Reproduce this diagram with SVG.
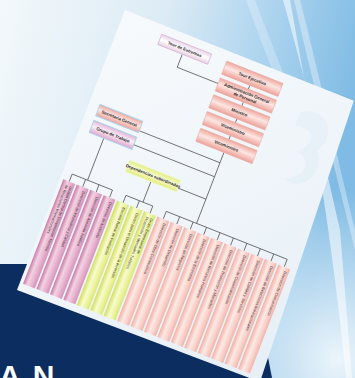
<svg xmlns="http://www.w3.org/2000/svg" width="355" height="378" viewBox="0 0 355 378">
<defs>
<style>
.lbl{font-family:"Liberation Sans",Arial,sans-serif;font-size:4.4px;fill:#2b2b2b;text-anchor:middle;font-weight:bold}
.cl{font-family:"Liberation Sans",Arial,sans-serif;font-size:3.9px;fill:#3a3030}
.ln{stroke:#4a4a4a;stroke-width:0.7;fill:none}
.pk{fill:url(#gPink)}
.yl{fill:url(#gYel)}
.sm{fill:url(#gSal)}
</style>
<linearGradient id="bg" x1="0" y1="0" x2="1" y2="0.25">
<stop offset="0" stop-color="#f3f8fb"/>
<stop offset="0.45" stop-color="#dcebf5"/>
<stop offset="0.75" stop-color="#a9d2ee"/>
<stop offset="1" stop-color="#7fbbe4"/>
</linearGradient>
<radialGradient id="bgBR" cx="0.95" cy="0.95" r="0.45">
<stop offset="0" stop-color="#ffffff" stop-opacity="0.85"/>
<stop offset="1" stop-color="#ffffff" stop-opacity="0"/>
</radialGradient>
<linearGradient id="paper" x1="0" y1="0" x2="1" y2="1">
<stop offset="0" stop-color="#f7fafc"/>
<stop offset="0.6" stop-color="#eef4f9"/>
<stop offset="1" stop-color="#e6eff6"/>
</linearGradient>
<linearGradient id="gPink" x1="0" y1="0" x2="1" y2="0">
<stop offset="0" stop-color="#c97aa6"/>
<stop offset="0.35" stop-color="#f3d2e3"/>
<stop offset="0.7" stop-color="#e6b2cf"/>
<stop offset="1" stop-color="#d592b8"/>
</linearGradient>
<linearGradient id="gYel" x1="0" y1="0" x2="1" y2="0">
<stop offset="0" stop-color="#d3df5c"/>
<stop offset="0.4" stop-color="#f7fbcf"/>
<stop offset="0.75" stop-color="#eaf299"/>
<stop offset="1" stop-color="#dbe672"/>
</linearGradient>
<linearGradient id="gSal" x1="0" y1="0" x2="1" y2="0">
<stop offset="0" stop-color="#f2b0a6"/>
<stop offset="0.4" stop-color="#fde9e5"/>
<stop offset="0.75" stop-color="#f8cfc8"/>
<stop offset="1" stop-color="#f1b3a9"/>
</linearGradient>
<linearGradient id="gBox" x1="0" y1="0" x2="0" y2="1">
<stop offset="0" stop-color="#eea79d"/>
<stop offset="0.45" stop-color="#fde6e2"/>
<stop offset="1" stop-color="#eca198"/>
</linearGradient>
<linearGradient id="gLav" x1="0" y1="0" x2="0" y2="1">
<stop offset="0" stop-color="#e2b3d4"/>
<stop offset="0.45" stop-color="#fbf0f7"/>
<stop offset="1" stop-color="#dca6cd"/>
</linearGradient>
<linearGradient id="gTop" x1="0" y1="0" x2="0" y2="1">
<stop offset="0" stop-color="#ead3e8"/>
<stop offset="0.5" stop-color="#ffffff"/>
<stop offset="1" stop-color="#e6cde3"/>
</linearGradient>
<linearGradient id="gYbox" x1="0" y1="0" x2="0" y2="1">
<stop offset="0" stop-color="#e3ee7a"/>
<stop offset="0.5" stop-color="#fafce0"/>
<stop offset="1" stop-color="#e0eb70"/>
</linearGradient>
</defs>

<!-- background -->
<rect x="0" y="0" width="355" height="378" fill="url(#bg)"/>
<rect x="0" y="0" width="355" height="378" fill="url(#bgBR)"/>
<path d="M283,0 C300,60 318,130 340,230 L352,378 L346,378 C334,250 312,120 290,0 Z" fill="#ffffff" opacity="0.55"/>
<path d="M300,0 C318,70 338,160 355,230 L355,250 C335,170 312,80 294,0 Z" fill="#ffffff" opacity="0.35"/>
<path d="M255,0 C270,40 290,90 310,140 L300,140 C282,95 262,45 246,0 Z" fill="#ffffff" opacity="0.25"/>
<polygon points="0,264 250,264 272,378 0,378" fill="#0b2d60"/>
<text x="-1" y="386" font-family="'Liberation Sans',Arial,sans-serif" font-size="30" font-weight="bold" letter-spacing="12" fill="#ffffff">AN</text>

<!-- paper -->
<g id="paper" transform="matrix(0.908 0.36 -0.36 0.933 125 10)">
<polygon points="0,0 252,0 266,296 0,300" fill="url(#paper)"/>
<path d="M205,30 C230,15 250,40 235,60 C250,75 240,105 215,98 C235,90 235,70 215,68 C232,58 228,38 205,45 Z" fill="#c9e0ef" opacity="0.2"/>

<!-- connectors -->
<g id="connectors" class="ln">
<path d="M71,20 V34 H116"/>
<path d="M147,24 V28 M147,42 V46 M147,60 V64 M147,78 V82"/>
<path d="M147,96 V172"/>
<path d="M58,107 H147"/>
<path d="M58,122 H147"/>
<path d="M116,146 H147"/>
<path d="M27,127 V172 M10,180 V172 H54.4 V180 M24.8,172 V180 M39.6,172 V180"/>
<path d="M88,150 V172 M69.2,180 V172 H98.8 V180 M84,172 V180"/>
<path d="M113.6,180 V172 H246.8 V180 M128.4,172 V180 M143.2,172 V180 M158,172 V180 M172.8,172 V180 M187.6,172 V180 M202.4,172 V180 M217.2,172 V180 M232,172 V180"/>
</g>

<g id="n-top"><rect x="44" y="9" width="55" height="11" fill="url(#gTop)" stroke="#d9b6d6" stroke-width="0.8"/><text class="lbl" x="71.5" y="16">Tour de Extremos</text></g>
<g id="n-s1"><rect x="116" y="10" width="62" height="14" fill="url(#gBox)" stroke="#e9a59c" stroke-width="0.5"/><text class="lbl" x="147" y="18.5">Tour Ejecutivo</text></g>
<g id="n-s2"><rect x="116" y="28" width="62" height="14" fill="url(#gBox)" stroke="#e9a59c" stroke-width="0.5"/><text class="lbl" x="147" y="34">Administración General</text><text class="lbl" x="147" y="39">de Personal</text></g>
<g id="n-s3"><rect x="116" y="46" width="62" height="14" fill="url(#gBox)" stroke="#e9a59c" stroke-width="0.5"/><text class="lbl" x="147" y="54.5">Ministro</text></g>
<g id="n-s4"><rect x="116" y="64" width="62" height="14" fill="url(#gBox)" stroke="#e9a59c" stroke-width="0.5"/><text class="lbl" x="147" y="72.5">Viceministro</text></g>
<g id="n-s5"><rect x="116" y="82" width="62" height="14" fill="url(#gBox)" stroke="#e9a59c" stroke-width="0.5"/><text class="lbl" x="147" y="90.5">Viceministro</text></g>
<g id="n-sec"><rect x="11" y="97" width="47" height="12" fill="url(#gBox)" stroke="#a9d3ec" stroke-width="1"/><text class="lbl" x="34.5" y="104.5">Secretaría General</text></g>
<g id="n-grp"><rect x="11" y="114" width="47" height="13" fill="url(#gLav)" stroke="#a9d3ec" stroke-width="1"/><text class="lbl" x="34.5" y="122">Grupo de Trabajo</text></g>
<g id="n-dep"><rect x="60" y="138" width="56" height="12" fill="url(#gYbox)" stroke="#eef6c0" stroke-width="0.8"/><text class="lbl" x="88" y="145.5">Dependencias subordinadas</text></g>

<!-- columns -->
<g id="c1"><rect class="pk" x="3.5" y="180" width="13" height="112"/><text class="cl" transform="translate(12.2,184) rotate(90)">Unidad Central de Cooperación Técnica</text><text class="cl" transform="translate(7.6,184) rotate(90)">de Relaciones Internacionales</text></g>
<g id="c2"><rect class="pk" x="18.3" y="180" width="13" height="112"/><text class="cl" transform="translate(26.2,184) rotate(90)">Dirección de Informática y Calidad</text></g>
<g id="c3"><rect class="pk" x="33.1" y="180" width="13" height="112"/><text class="cl" transform="translate(41,184) rotate(90)">Dirección de Asesoría Jurídica</text></g>
<g id="c4"><rect class="pk" x="47.9" y="180" width="13" height="112"/><text class="cl" transform="translate(55.8,184) rotate(90)">Dirección de Auditoría</text></g>
<g id="c5"><rect class="yl" x="62.7" y="180" width="13" height="112"/><text class="cl" transform="translate(70.6,184) rotate(90)">Escuela Ramal de Formación</text></g>
<g id="c6"><rect class="yl" x="77.5" y="180" width="13" height="112"/><text class="cl" transform="translate(85.4,184) rotate(90)">Centro para el Desarrollo de la Inversión</text></g>
<g id="c7"><rect class="yl" x="92.3" y="180" width="13" height="112"/><text class="cl" transform="translate(101,184) rotate(90)">Grupo Empresarial de</text><text class="cl" transform="translate(96.4,184) rotate(90)">Promoción y Mercadeo Turístico</text></g>
<g id="c8"><rect class="sm" x="107.1" y="180" width="13" height="112"/><text class="cl" transform="translate(115,184) rotate(90)">Dirección de Obra Constructiva</text></g>
<g id="c9"><rect class="sm" x="121.9" y="180" width="13" height="112"/><text class="cl" transform="translate(129.8,184) rotate(90)">Dirección de Desarrollo</text></g>
<g id="c10"><rect class="sm" x="136.7" y="180" width="13" height="112"/><text class="cl" transform="translate(144.6,184) rotate(90)">Dirección de Negocios</text></g>
<g id="c11"><rect class="sm" x="151.5" y="180" width="13" height="112"/><text class="cl" transform="translate(159.4,184) rotate(90)">Dirección de la Economía</text></g>
<g id="c12"><rect class="sm" x="166.3" y="180" width="13" height="112"/><text class="cl" transform="translate(174.2,184) rotate(90)">Dirección de Recursos Humanos</text></g>
<g id="c13"><rect class="sm" x="181.1" y="180" width="13" height="112"/><text class="cl" transform="translate(189,184) rotate(90)">Dirección de Promoción y Mercadeo</text></g>
<g id="c14"><rect class="sm" x="195.9" y="180" width="13" height="112"/><text class="cl" transform="translate(203.8,184) rotate(90)">Dirección de Comercialización</text></g>
<g id="c15"><rect class="sm" x="210.7" y="180" width="13" height="112"/><text class="cl" transform="translate(218.6,184) rotate(90)">Dirección de Calidad y Servicios</text></g>
<g id="c16"><rect class="sm" x="225.5" y="180" width="13" height="112"/><text class="cl" transform="translate(233.4,184) rotate(90)">Dirección de Relaciones Internacionales</text></g>
<g id="c17"><rect class="sm" x="240.3" y="180" width="13" height="112"/><text class="cl" transform="translate(248.2,184) rotate(90)">Dirección de Comunicación</text></g>
</g>
</svg>
